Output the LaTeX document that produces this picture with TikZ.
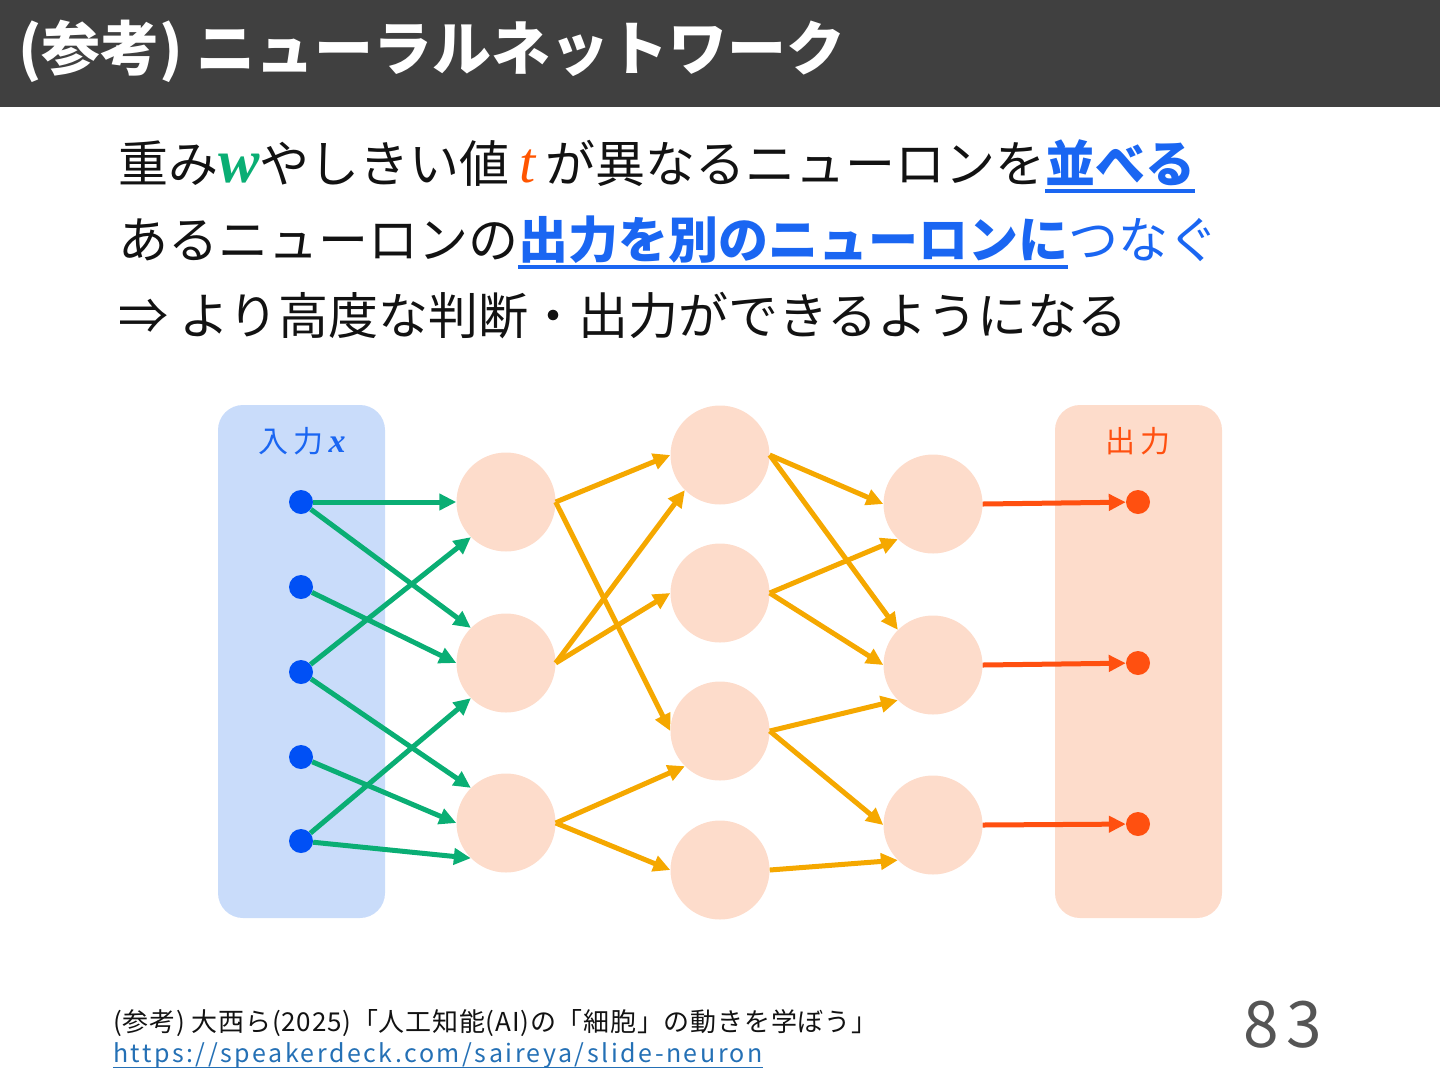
\documentclass[tikz,border=0pt]{standalone}
\usepackage{fontspec}
\usetikzlibrary{arrows.meta}
\setmainfont{Noto Sans CJK JP}
\newfontfamily\varfont{Liberation Serif}
\definecolor{barbg}{HTML}{404040}
\definecolor{ublue}{HTML}{1A66F2}
\definecolor{wgreen}{HTML}{0AAE74}
\definecolor{tred}{HTML}{FF5500}
\definecolor{inbox}{HTML}{C9DCFA}
\definecolor{peach}{HTML}{FDDCCB}
\definecolor{indot}{HTML}{0050F5}
\definecolor{outred}{HTML}{FF5010}
\definecolor{aorange}{HTML}{F5A800}
\definecolor{agreen}{HTML}{0AAE74}
\definecolor{urlblue}{HTML}{2470B5}
\definecolor{pagegray}{HTML}{555555}
\newcommand\ulblue[1]{\setbox0=\hbox{#1}\rlap{\color{ublue}\rule[-11pt]{\wd0}{4pt}}\box0}
\newcommand\ulurl[1]{\setbox0=\hbox{#1}\rlap{\color{urlblue}\rule[-6pt]{\wd0}{1.5pt}}\box0}
\newcommand\mvar[1]{{\varfont\itshape #1}}
\newcommand\mbvar[1]{{\varfont\bfseries\itshape #1}}
\begin{document}
\begin{tikzpicture}[x=1pt,y=-1pt,
  hid/.style={circle,fill=peach,minimum size=99pt,inner sep=0pt},
  indotn/.style={circle,fill=indot,minimum size=24pt,inner sep=0pt},
  outdotn/.style={circle,fill=outred,minimum size=24pt,inner sep=0pt},
  tip/.style={-{Triangle[length=17pt,width=16pt]}},
  garrow/.style={tip,draw=agreen,line width=5pt},
  oarrow/.style={tip,draw=aorange,line width=5pt},
  rarrow/.style={tip,draw=outred,line width=5pt},
  txt/.style={inner sep=0pt,anchor=base west,text=black!93}]
\useasboundingbox (0,0) rectangle (1440,1080);
% title bar
\fill[barbg] (0,0) rectangle (1440,107);
\node[txt,text=white,font=\fontsize{59}{62}\selectfont\bfseries] (title) at (18,70) {(参考) ニューラルネットワーク};
% text lines
\node[txt,font=\fontsize{50}{56}\selectfont] (l1) at (118,182)
 {重み{\color{wgreen}\fontsize{62}{60}\selectfont\mbvar{w}}やしきい値{\color{tred}\fontsize{58}{60}\selectfont\,\mvar{t}\,}が異なるニューロンを\ulblue{\color{ublue}\bfseries 並べる}};
\node[txt,font=\fontsize{50}{56}\selectfont] (l2) at (118,258)
 {あるニューロンの\ulblue{\color{ublue}\bfseries 出力を別のニューロンに}つなぐ};
\node[txt,font=\fontsize{50}{56}\selectfont] (l3) at (118,334)
 {⇒ より高度な判断・出力ができるようになる};
% boxes
\fill[inbox,rounded corners=25pt] (218,405) rectangle (385,918);
\fill[peach,rounded corners=25pt] (1055,405) rectangle (1222,918);
\node[text=ublue,font=\fontsize{30}{32}\selectfont] (inlab) at (302,441) {入\,力\,{\fontsize{34}{34}\selectfont\mbvar{x}}};
\node[text=outred,font=\fontsize{30}{32}\selectfont] (outlab) at (1138,441) {出\,力};
% input dots
\node[indotn] (in1) at (301,502) {};
\node[indotn] (in2) at (301,587) {};
\node[indotn] (in3) at (301,672) {};
\node[indotn] (in4) at (301,757) {};
\node[indotn] (in5) at (301,841) {};
% hidden layers
\node[hid] (h1a) at (506,502) {};
\node[hid] (h1b) at (506,663) {};
\node[hid] (h1c) at (506,823) {};
\node[hid] (h2a) at (720,455) {};
\node[hid] (h2b) at (720,593) {};
\node[hid] (h2c) at (720,731) {};
\node[hid] (h2d) at (720,870) {};
\node[hid] (h3a) at (933,504) {};
\node[hid] (h3b) at (933,665) {};
\node[hid] (h3c) at (933,825) {};
% output dots
\node[outdotn] (o1) at (1138,502) {};
\node[outdotn] (o2) at (1138,663) {};
\node[outdotn] (o3) at (1138,824) {};
% green arrows
\draw[garrow] (in1) -- (h1a.west);
\draw[garrow] (in1) -- (h1b.north west);
\draw[garrow] (in2) -- (h1b.west);
\draw[garrow] (in3) -- (h1a.south west);
\draw[garrow] (in3) -- (h1c.north west);
\draw[garrow] (in4) -- (h1c.west);
\draw[garrow] (in5) -- (h1b.south west);
\draw[garrow] (in5) -- (h1c.south west);
% orange arrows
\draw[oarrow] (h1a.east) -- (h2a.west);
\draw[oarrow] (h1a.east) -- (h2c.west);
\draw[oarrow] (h1b.east) -- (h2a.south west);
\draw[oarrow] (h1b.east) -- (h2b.west);
\draw[oarrow] (h1c.east) -- (h2c.south west);
\draw[oarrow] (h1c.east) -- (h2d.west);
\draw[oarrow] (h2a.east) -- (h3a.west);
\draw[oarrow] (h2a.east) -- (h3b.north west);
\draw[oarrow] (h2b.east) -- (h3a.south west);
\draw[oarrow] (h2b.east) -- (h3b.west);
\draw[oarrow] (h2c.east) -- (h3b.south west);
\draw[oarrow] (h2c.east) -- (h3c.west);
\draw[oarrow] (h2d.east) -- (h3c.south west);
% red arrows
\draw[rarrow] (h3a.east) -- (o1);
\draw[rarrow] (h3b.east) -- (o2);
\draw[rarrow] (h3c.east) -- (o3);
% footer
\node[txt,font=\fontsize{26}{28}\selectfont\addfontfeature{LetterSpace=3}] (ref) at (113,1031)
 {(参考) 大西ら(2025)「人工知能(AI)の「細胞」の動きを学ぼう」};
\node[txt,text=urlblue,font=\fontsize{25}{28}\selectfont\addfontfeature{LetterSpace=10}] (url) at (113,1062)
 {\ulurl{https://speakerdeck.com/saireya/slide-neuron}};
\node[txt,text=pagegray,font=\fontsize{64}{66}\selectfont\addfontfeature{LetterSpace=12}] (page) at (1243,1047) {83};
\end{tikzpicture}
\end{document}
